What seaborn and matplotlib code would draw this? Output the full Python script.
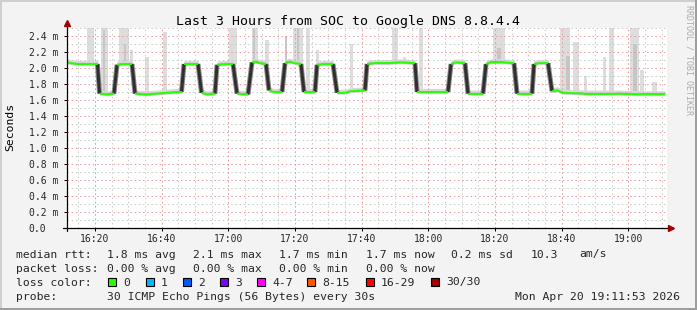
import numpy as np
import pandas as pd
import matplotlib
matplotlib.use("Agg")
import matplotlib.pyplot as plt
import seaborn as sns
from matplotlib.patches import Rectangle

# ---------------- data (time in minutes since 16:11:36) ----------------
times_min = [0.0, 1.2, 3.0, 6.0, 9.15, 9.75, 12.0, 14.1, 15.0, 16.5, 19.5, 20.4,
             24.0, 27.0, 30.0, 33.0, 34.35, 35.1, 39.3, 40.35, 42.0, 44.4, 45.0,
             47.0, 49.8, 51.0, 54.3, 55.5, 56.5, 58.0, 59.7, 60.6, 62.0, 64.5,
             65.4, 66.5, 68.5, 70.2, 71.1, 74.4, 75.0, 77.0, 79.8, 81.0, 83.5,
             85.0, 89.4, 90.0, 92.0, 96.0, 100.0, 104.4, 105.0, 110.0, 114.3,
             115.2, 116.5, 119.4, 120.3, 124.8, 125.7, 127.0, 131.0, 134.1,
             135.0, 139.5, 140.1, 141.5, 144.3, 145.5, 147.0, 148.8, 155.0,
             165.0, 172.0, 179.4]
median_ms = [2.07, 2.06, 2.05, 2.05, 2.05, 1.68, 1.67, 1.68, 2.04, 2.05, 2.05, 1.68,
             1.67, 1.68, 1.69, 1.70, 1.70, 2.05, 2.05, 1.69, 1.67, 1.68, 2.04,
             2.05, 2.05, 1.68, 1.67, 2.07, 2.08, 2.06, 2.05, 1.72, 1.70, 1.70,
             2.06, 2.08, 2.06, 2.05, 1.70, 1.70, 2.04, 2.05, 2.05, 1.69, 1.69,
             1.71, 1.72, 2.05, 2.06, 2.06, 2.07, 2.06, 1.70, 1.70, 1.70,
             2.05, 2.07, 2.06, 1.68, 1.68, 2.05, 2.07, 2.07, 2.06,
             1.68, 1.68, 2.05, 2.06, 2.06, 1.71, 1.72, 1.69, 1.68,
             1.68, 1.67, 1.67]

# smoke spikes (max ping): time, top value, width in minutes
spike_t = [7.0, 11.1, 17.1, 19.2, 24.0, 29.4, 49.8, 56.4, 60.0, 69.3, 72.3,
           75.0, 85.2, 98.4, 101.1, 106.2, 129.6, 149.4, 152.7, 155.4, 161.1,
           163.2, 170.1, 172.5, 176.1]
spike_top = [2.50, 2.50, 2.50, 2.22, 2.14, 2.45, 2.50, 2.50, 2.35, 2.50, 2.50,
             2.22, 2.30, 2.50, 2.14, 2.50, 2.50, 2.50, 2.32, 1.90, 2.14,
             2.50, 2.50, 1.98, 1.82]
spike_w = [2.1, 2.1, 3.0, 0.9, 1.2, 1.2, 2.4, 1.8, 1.2, 3.0, 1.2,
           0.9, 0.9, 1.8, 0.9, 1.2, 3.6, 3.0, 1.8, 0.9, 0.9,
           1.5, 2.7, 1.2, 1.5]
core_t = [11.0, 17.4, 56.1, 65.7, 69.3, 129.6, 150.3, 170.4]
core_top = [2.48, 2.30, 2.50, 2.40, 2.50, 2.25, 2.15, 2.30]
core_w = [0.6, 0.6, 0.6, 0.6, 0.6, 1.2, 1.2, 1.2]

xtick_pos = [8.4, 28.4, 48.4, 68.4, 88.4, 108.4, 128.4, 148.4, 168.4]
xtick_labels = ["16:20", "16:40", "17:00", "17:20", "17:40", "18:00", "18:20", "18:40", "19:00"]
ytick_pos = [0.0, 0.2, 0.4, 0.6, 0.8, 1.0, 1.2, 1.4, 1.6, 1.8, 2.0, 2.2, 2.4]
ytick_labels = ["0.0", "0.2 m", "0.4 m", "0.6 m", "0.8 m", "1.0 m", "1.2 m", "1.4 m",
                "1.6 m", "1.8 m", "2.0 m", "2.2 m", "2.4 m"]

loss_labels = ["0", "1", "2", "3", "4-7", "8-15", "16-29", "30/30"]
loss_colors = ["#26ff00", "#00b8ff", "#0059ff", "#7e00ff", "#ff00ff", "#ff5500", "#ff0000", "#a10000"]

# ---------------- style ----------------
sns.set_theme(style="white")
plt.rcParams["font.family"] = ["DejaVu Sans Mono"]
BG = "#f3f3f3"

W, H = 697, 310
fig = plt.figure(figsize=(W / 100, H / 100), dpi=100, facecolor=BG)
L, R, T, B = 67, 667, 28, 228
ax = fig.add_axes([L / W, 1 - B / H, (R - L) / W, (B - T) / H])
ax.set_facecolor("white")
ax.set_xlim(0, 180)
ax.set_ylim(0, 2.5)
for s in ax.spines.values():
    s.set_visible(False)

t = np.array(times_min)
m = np.array(median_ms)

# smoke spikes
base = np.interp(spike_t, t, m)
ax.bar(spike_t, np.array(spike_top) - base, bottom=base, width=spike_w,
       color="#dddddd", linewidth=0, zorder=1)
cbase = np.interp(core_t, t, m)
ax.bar(core_t, np.array(core_top) - cbase, bottom=cbase, width=core_w,
       color="#c6c6c6", linewidth=0, zorder=1.1)
# smoke band
ax.fill_between(t, m - 0.018, m + 0.045, color="#d8d8d8", linewidth=0, zorder=1.2)
ax.fill_between(t, m - 0.008, m + 0.02, color="#bdbdbd", linewidth=0, zorder=1.3)

# grid (rrdtool draws grid over areas)
dash = (0, (1.4, 2.8))
for xm in np.arange(3.4, 180, 5):
    ax.axvline(xm, color="#c8c8c8", lw=0.72, ls=dash, zorder=2)
for yv in np.arange(0.1, 2.51, 0.2):
    ax.axhline(yv, color="#c8c8c8", lw=0.72, ls=dash, zorder=2)
for xm in xtick_pos:
    ax.axvline(xm, color="#eb9a9a", lw=0.72, ls=dash, zorder=2.1)
for yv in ytick_pos[1:]:
    ax.axhline(yv, color="#eb9a9a", lw=0.72, ls=dash, zorder=2.1)

# split median into flat (green) and transition (dark smoke) segments
rows_flat, rows_tr = [], []
for i in range(len(t) - 1):
    seg = [(t[i], m[i]), (t[i + 1], m[i + 1])]
    target = rows_tr if abs(m[i + 1] - m[i]) > 0.15 else rows_flat
    for (xx, yy) in seg:
        target.append({"t": xx, "v": yy, "seg": i})
df_flat = pd.DataFrame(rows_flat)
df_tr = pd.DataFrame(rows_tr)

sns.lineplot(data=df_tr, x="t", y="v", units="seg", estimator=None, ax=ax,
             color="#8c8c8c", lw=3.6, zorder=3, legend=False,
             solid_capstyle="butt")
sns.lineplot(data=df_tr, x="t", y="v", units="seg", estimator=None, ax=ax,
             color="#303030", lw=2.2, zorder=3.1, legend=False,
             solid_capstyle="butt")
sns.lineplot(data=df_flat, x="t", y="v", units="seg", estimator=None, ax=ax,
             color="#26ff00", lw=1.4, zorder=4, legend=False,
             solid_capstyle="butt", solid_joinstyle="miter")

# ticks
ax.set_xticks(xtick_pos)
ax.set_xticklabels(xtick_labels)
ax.set_yticks(ytick_pos)
ax.set_yticklabels(ytick_labels, ha="left")
ax.set_xlabel("")
ax.set_ylabel("")
ax.tick_params(axis="x", direction="out", length=2, width=0.72, color="black",
               labelsize=7, pad=2.2, bottom=True)
ax.tick_params(axis="y", direction="out", length=2.5, width=0.72, color="black",
               labelsize=7, pad=25.0, left=True)

# axis lines with arrows
px_x = 1 / (R - L)
px_y = 1 / (B - T)
ax.plot([-4 * px_x, 1 + 2 * px_x], [0, 0], color="black", lw=0.9,
        transform=ax.transAxes, clip_on=False, zorder=5)
ax.plot([0, 0], [-3 * px_y, 1 + 4 * px_y], color="black", lw=0.9,
        transform=ax.transAxes, clip_on=False, zorder=5)
ax.plot([1 + 4 * px_x], [0], marker=">", ms=4.5, color="#a00000", mec="#a00000",
        transform=ax.transAxes, clip_on=False, zorder=6)
ax.plot([0], [1 + 5 * px_y], marker="^", ms=4.5, color="#a00000", mec="#a00000",
        transform=ax.transAxes, clip_on=False, zorder=6)

def fx(x):
    return x / W

def fy(y):
    return 1 - y / H

fig.text(0.5, fy(25), "Last 3 Hours from SOC to Google DNS 8.8.4.4",
         ha="center", va="baseline", fontsize=9.5, color="black")
fig.text(fx(10), fy(127), "Seconds", rotation=90, ha="center", va="center",
         fontsize=8.2, color="black")
fig.text(fx(689), fy(5), "RRDTOOL / TOBI OETIKER", rotation=270, ha="center",
         va="top", fontsize=6.0, color="#ababab")

LF = 8.2
row1 = [(16, "median rtt:"), (107, "1.8 ms avg"), (193, "2.1 ms max"),
        (279, "1.7 ms min"), (366, "1.7 ms now"), (451, "0.2 ms sd"),
        (531, "10.3"), (579, "am/s")]
row2 = [(16, "packet loss:"), (107, "0.00 % avg"), (193, "0.00 % max"),
        (279, "0.00 % min"), (366, "0.00 % now")]
for x, s in row1:
    fig.text(fx(x), fy(257.5), s, ha="left", va="baseline", fontsize=LF)
for x, s in row2:
    fig.text(fx(x), fy(271.5), s, ha="left", va="baseline", fontsize=LF)
fig.text(fx(16), fy(285.5), "loss color:", ha="left", va="baseline", fontsize=LF)
sq_x = [108, 146, 183, 220, 257, 307, 366, 431]
for x, lab, col in zip(sq_x, loss_labels, loss_colors):
    fig.add_artist(Rectangle((fx(x), fy(286)), 8 / W, 8 / H, transform=fig.transFigure,
                             facecolor=col, edgecolor="black", lw=0.8))
    fig.text(fx(x + 15), fy(285.5), lab, ha="left", va="baseline", fontsize=LF)
fig.text(fx(16), fy(299.5), "probe:", ha="left", va="baseline", fontsize=LF)
fig.text(fx(107), fy(299.5), "30 ICMP Echo Pings (56 Bytes) every 30s",
         ha="left", va="baseline", fontsize=LF)
fig.text(fx(680), fy(299.5), "Mon Apr 20 19:11:53 2026", ha="right",
         va="baseline", fontsize=LF)

# 3D frame
for (x0, y0, w, h, c) in [(0, 0, W, 2, "#cfcfcf"), (0, 0, 2, H, "#cfcfcf"),
                          (0, H - 2, W, 2, "#9e9e9e"), (W - 2, 0, 2, H, "#9e9e9e")]:
    fig.add_artist(Rectangle((fx(x0), fy(y0 + h)), w / W, h / H,
                             transform=fig.transFigure, facecolor=c,
                             edgecolor="none", lw=0))

fig.savefig("out.png", dpi=100, facecolor=BG)
